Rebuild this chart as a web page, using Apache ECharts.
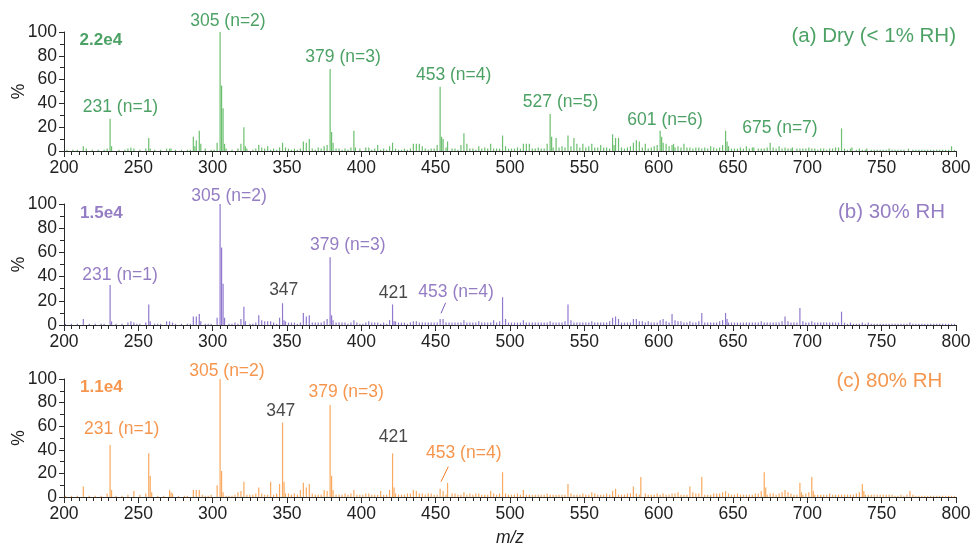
<!DOCTYPE html>
<html><head><meta charset="utf-8">
<script src="https://cdn.jsdelivr.net/npm/echarts@6/dist/echarts.min.js"></script>
<style>html,body{margin:0;padding:0;background:#fff}#c{width:973px;height:546px}</style>
</head><body><div id="c"></div>
<script>
// ---- data (m/z, relative intensity %) ----
const xTicks = [200, 800, 50];
const yTicks = [0, 100, 20];

const peaksDryMajor = [[231,27],[257,11],[287,12],[289,9],[291,17],[303,7],[305,100],[306,55],[307,36],[321,20],[347,7],[361,8],[363,7],[365,10],[379,69],[380,16],[381,7],[395,17],[453,54],[454,12],[455,10],[458,8],[469,15],[495,13],[527,31],[528,12],[531,11],[539,13],[543,11],[569,14],[571,11],[573,11],[601,17],[602,12],[645,17],[646,8],[675,7],[723,19]];
const peaksDryMinor = [[202,1],[206,1],[209,1],[213,4],[215,2],[219,1],[223,1],[227,1],[229,2],[232,4],[237,1],[241,1],[243,2],[245,3],[247,2],[251,1],[255,2],[258,2],[261,1],[265,1],[269,2],[271,2],[272,2],[275,1],[279,1],[283,1],[285,1],[288,4],[292,6],[295,2],[299,1],[301,1],[308,6],[309,2],[313,1],[317,2],[319,6],[322,4],[323,2],[327,1],[329,2],[331,5],[333,3],[335,2],[337,4],[339,1],[341,2],[343,1],[345,3],[349,3],[351,2],[353,1],[355,2],[357,1],[359,2],[367,2],[369,1],[371,3],[373,2],[375,4],[377,5],[383,2],[385,2],[387,1],[389,2],[391,1],[393,3],[396,3],[399,2],[403,3],[405,3],[407,1],[409,2],[411,5],[413,1],[415,2],[417,1],[419,4],[421,7],[423,2],[425,1],[427,1],[429,2],[431,1],[433,2],[435,6],[437,6],[439,6],[441,4],[443,2],[445,1],[447,2],[449,2],[451,5],[457,3],[461,2],[463,2],[465,1],[467,5],[471,6],[473,2],[475,2],[477,1],[479,4],[481,2],[483,3],[485,2],[487,6],[489,2],[491,2],[493,2],[497,4],[499,2],[501,2],[503,2],[505,3],[507,2],[509,6],[511,6],[513,6],[515,2],[517,2],[519,3],[521,2],[523,2],[525,6],[529,3],[533,3],[535,4],[537,3],[541,4],[545,6],[547,3],[549,6],[551,3],[553,4],[555,6],[557,3],[559,3],[561,5],[563,3],[565,3],[567,2],[570,5],[575,3],[577,2],[579,3],[581,4],[583,7],[585,9],[587,8],[589,3],[591,6],[593,2],[595,3],[597,4],[599,5],[603,7],[605,6],[607,4],[609,5],[610,6],[611,3],[613,4],[615,3],[617,6],[619,3],[621,3],[623,2],[625,3],[627,3],[629,2],[631,3],[633,2],[635,4],[637,3],[639,2],[641,3],[643,5],[647,4],[649,2],[651,2],[653,2],[655,3],[657,2],[659,4],[661,2],[663,3],[664,3],[667,2],[669,2],[671,2],[673,3],[677,3],[679,2],[681,4],[683,2],[685,3],[687,2],[689,2],[690,3],[693,2],[695,2],[697,2],[699,2],[701,3],[703,2],[705,2],[707,1],[709,2],[711,2],[713,1],[715,2],[717,2],[719,3],[721,3],[725,2],[727,1],[729,2],[730,3],[733,1],[735,2],[737,1],[739,1],[740,2],[743,1],[745,1],[747,1],[749,1],[751,1],[753,1],[755,2],[757,1],[759,1],[761,1],[763,1],[765,1],[768,2],[771,1],[773,1],[775,1],[777,1],[779,1],[781,1],[783,1],[785,1],[787,1],[789,1],[791,1],[793,1],[795,1],[797,4],[799,1]];

const peaks30Major = [[213,5],[231,33],[257,17],[287,7],[289,7],[291,9],[303,6],[305,100],[306,64],[307,34],[321,15],[331,8],[347,18],[361,10],[363,7],[365,8],[379,56],[380,8],[421,17],[495,23],[539,17],[569,6],[571,7],[609,9],[629,10],[645,10],[685,7],[695,14],[723,11]];
const peaks30Minor = [[201,1],[205,1],[209,1],[217,1],[221,1],[225,1],[227,1],[232,3],[235,1],[239,1],[243,2],[245,3],[247,2],[249,1],[251,1],[255,2],[258,3],[261,1],[263,1],[265,1],[269,3],[271,3],[273,2],[275,1],[279,1],[283,1],[285,1],[292,3],[295,1],[297,1],[299,1],[308,6],[311,1],[313,1],[315,2],[317,1],[319,5],[322,3],[325,1],[327,1],[329,2],[333,4],[335,3],[337,3],[339,3],[341,2],[343,1],[345,6],[348,4],[349,3],[351,2],[353,2],[355,2],[357,1],[359,2],[367,2],[369,2],[371,2],[373,2],[375,3],[377,5],[381,4],[383,2],[385,2],[387,2],[389,2],[391,1],[393,2],[395,4],[397,2],[399,1],[401,1],[403,2],[405,3],[407,2],[409,2],[411,2],[413,1],[415,2],[417,1],[419,4],[422,3],[423,3],[425,2],[427,2],[429,2],[431,1],[433,2],[435,3],[437,3],[439,2],[441,2],[443,2],[445,2],[447,2],[449,2],[451,2],[453,5],[455,5],[457,2],[459,2],[461,2],[463,2],[465,2],[467,2],[469,4],[471,2],[473,2],[475,2],[477,2],[479,3],[481,2],[483,2],[485,2],[487,2],[489,4],[491,2],[493,3],[497,5],[499,2],[501,2],[503,2],[505,2],[507,2],[509,4],[511,2],[513,2],[515,2],[517,2],[519,2],[521,2],[523,2],[525,2],[527,3],[529,2],[531,2],[533,2],[535,2],[537,3],[541,4],[543,2],[545,2],[547,2],[549,2],[551,2],[553,2],[555,3],[557,2],[559,2],[561,2],[563,2],[565,2],[567,3],[573,5],[575,2],[577,2],[579,2],[581,2],[583,5],[585,5],[587,3],[589,3],[591,2],[593,3],[595,2],[597,2],[599,2],[601,4],[603,5],[605,3],[607,2],[611,4],[613,3],[615,3],[617,2],[619,2],[621,3],[623,2],[625,2],[627,3],[631,2],[633,2],[635,2],[637,2],[639,2],[641,3],[643,4],[646,5],[647,2],[649,2],[651,2],[653,2],[655,2],[657,2],[659,2],[661,2],[663,2],[665,2],[667,2],[669,3],[671,2],[673,2],[675,2],[677,2],[679,2],[681,2],[683,3],[687,3],[689,2],[691,2],[693,2],[697,3],[699,2],[701,2],[703,3],[705,2],[707,2],[709,2],[711,2],[713,2],[715,2],[717,2],[719,2],[721,2],[725,2],[727,1],[729,2],[731,1],[733,1],[735,1],[737,2],[739,1],[741,2],[743,1],[745,1],[747,1],[749,1],[751,1],[753,1],[755,1],[757,1],[759,1],[761,1],[763,1],[765,1],[767,1],[769,2],[771,1],[773,1],[775,1],[777,1],[779,1],[781,1],[783,1],[785,1],[787,1],[789,1],[791,1],[793,1],[795,1],[797,1],[799,1]];

const peaks80Major = [[213,9],[231,44],[257,37],[258,18],[303,10],[305,100],[306,22],[321,13],[331,8],[339,13],[345,11],[347,63],[348,13],[361,12],[363,8],[365,11],[379,78],[380,18],[421,37],[422,8],[458,12],[495,21],[539,11],[583,9],[588,17],[621,9],[629,17],[671,21],[672,8],[695,12],[703,17],[737,11]];
const peaks80Minor = [[201,1],[205,1],[209,1],[217,1],[221,1],[225,1],[229,3],[232,6],[235,1],[239,1],[243,2],[247,5],[251,2],[255,3],[259,4],[263,1],[267,1],[271,6],[272,4],[273,3],[277,1],[281,1],[283,1],[287,6],[289,6],[291,6],[293,2],[295,1],[297,1],[299,2],[307,4],[309,1],[311,1],[313,1],[315,2],[317,4],[319,5],[323,2],[325,2],[327,2],[329,3],[333,3],[335,2],[337,2],[341,2],[343,3],[349,3],[351,3],[353,2],[355,3],[357,2],[359,6],[367,3],[369,2],[371,2],[373,2],[375,6],[377,5],[381,6],[383,2],[385,2],[387,2],[389,3],[391,2],[393,3],[395,6],[397,2],[399,2],[401,2],[403,3],[405,3],[407,2],[409,2],[411,2],[413,5],[415,2],[417,2],[419,6],[423,3],[425,2],[427,2],[429,2],[431,3],[433,3],[435,6],[437,5],[439,3],[441,3],[443,2],[445,3],[447,3],[449,2],[451,2],[453,7],[455,5],[457,2],[461,3],[463,3],[465,2],[467,2],[469,4],[471,2],[473,3],[475,2],[477,3],[479,3],[481,2],[483,2],[485,2],[487,5],[489,3],[491,2],[493,3],[497,3],[499,2],[501,2],[503,2],[505,3],[507,2],[509,6],[511,2],[513,2],[515,2],[517,2],[519,2],[521,2],[523,2],[525,3],[527,2],[529,2],[531,2],[533,2],[535,2],[537,2],[541,3],[543,2],[545,2],[547,2],[549,3],[551,2],[553,2],[555,4],[557,3],[559,2],[561,2],[563,2],[565,3],[567,2],[569,5],[571,7],[573,2],[575,2],[577,2],[579,3],[581,3],[585,3],[587,2],[591,3],[593,2],[595,2],[597,2],[599,3],[601,2],[603,3],[605,2],[607,2],[609,3],[611,3],[613,4],[615,2],[617,2],[619,2],[623,4],[625,3],[627,3],[631,2],[633,2],[635,2],[637,3],[639,3],[641,3],[643,4],[645,5],[647,3],[649,2],[651,2],[653,3],[655,2],[657,2],[659,2],[661,2],[663,2],[665,3],[667,3],[669,5],[673,2],[675,3],[677,3],[679,2],[681,3],[683,4],[685,6],[687,4],[689,3],[691,2],[693,2],[696,4],[697,2],[699,3],[701,4],[704,5],[705,2],[707,2],[709,2],[711,2],[713,2],[715,3],[717,2],[719,2],[721,2],[723,2],[725,2],[727,2],[729,2],[731,2],[733,3],[735,4],[738,5],[739,2],[741,2],[743,2],[745,2],[747,2],[749,2],[751,2],[753,2],[755,2],[757,2],[759,1],[761,1],[763,2],[765,1],[767,2],[769,5],[771,2],[773,1],[775,1],[777,1],[779,1],[781,1],[783,1],[785,1],[787,1],[789,1],[791,1],[793,1],[795,1],[797,1],[799,1]];

// annotation texts placed in data coordinates [m/z, %, text]
const labelsDry = [[238,37,'231 (n=1)'],[310.3,109,'305 (n=2)'],[387.7,78.7,'379 (n=3)'],[462.1,63.9,'453 (n=4)'],[534,41.4,'527 (n=5)'],[604.3,26,'601 (n=6)'],[681.6,19.3,'675 (n=7)']];
const labels30 = [[237.7,41.3,'231 (n=1)'],[311,106.6,'305 (n=2)'],[390.9,66.1,'379 (n=3)'],[463.7,27.5,'453 (n=4)']];
const labels30Black = [[347.8,28.9,'347'],[421.5,26.4,'421']];
const labels80 = [[238.8,57.6,'231 (n=1)'],[309.6,106.8,'305 (n=2)'],[389.8,89.2,'379 (n=3)'],[468.9,37.5,'453 (n=4)']];
const labels80Black = [[345.8,72.9,'347'],[421.6,50.3,'421']];
const scaleLabels = [[210.5,92.6,'2.2e4'],[210.8,92.6,'1.5e4'],[210.8,92.6,'1.1e4']];
const titles = [[800,96,'(a) Dry (< 1% RH)'],[792.6,92.8,'(b) 30% RH'],[790.8,97.7,'(c) 80% RH']];
const leader30 = [[456.7,18.4],[453.6,9.7]];
const leader80 = [[458.5,25.7],[453.6,13]];

// ---- style ----
const FONT = '"Liberation Sans", Arial, sans-serif';
const colText = ['#1f8a3e', '#7a5db5', '#f47c22'];
const colBar = ['#6cbf6e', '#9179cf', '#f9aa60'];
const grids = [{top:32,height:119},{top:204,height:121},{top:379,height:118}];

const chart = echarts.init(document.getElementById('c'), null, {renderer:'canvas'});

const xAxes = grids.map((g,i)=>({
  type:'value', gridIndex:i, min:xTicks[0], max:xTicks[1], interval:xTicks[2],
  axisLine:{onZero:false, lineStyle:{color:'#2a2a2a', width:1}},
  axisTick:{show:true, length:6, lineStyle:{color:'#2a2a2a'}},
  minorTick:{show:true, splitNumber:10, length:4, lineStyle:{color:'#2a2a2a'}},
  splitLine:{show:false},
  axisLabel:{color:'#222', fontSize:17.5, fontFamily:FONT, margin:8},
  name: i===2 ? 'm/z' : '', nameLocation:'middle', nameGap:32, nameMoveOverlap:false,
  nameTextStyle:{color:'#222', fontSize:17.5, fontStyle:'italic', fontFamily:FONT}
}));
const yAxes = grids.map((g,i)=>({
  type:'value', gridIndex:i, min:yTicks[0], max:yTicks[1], interval:yTicks[2],
  axisLine:{show:true, lineStyle:{color:'#2a2a2a', width:1}},
  axisTick:{show:true, length:5, lineStyle:{color:'#2a2a2a'}},
  minorTick:{show:true, splitNumber:2, length:4, lineStyle:{color:'#2a2a2a'}},
  splitLine:{show:false},
  axisLabel:{color:'#222', fontSize:17.5, fontFamily:FONT, margin:7},
  name:'%', nameLocation:'middle', nameGap:36, nameRotate:90, nameMoveOverlap:false,
  nameTextStyle:{color:'#222', fontSize:17.5, fontFamily:FONT}
}));

const peakSets = [peaksDryMajor.concat(peaksDryMinor), peaks30Major.concat(peaks30Minor), peaks80Major.concat(peaks80Minor)];
const series = [];
peakSets.forEach((d,i)=>{
  series.push({type:'bar', xAxisIndex:i, yAxisIndex:i, data:d, barWidth:1.2, silent:true,
    itemStyle:{color:colBar[i]}, animation:false});
});
function textSeries(i, arr, color, opts){
  return {type:'scatter', xAxisIndex:i, yAxisIndex:i, symbolSize:0, clip:false, silent:true, animation:false,
    data:arr.map(a=>({value:[a[0],a[1]], name:a[2]})),
    label:Object.assign({show:true, position:'inside', formatter:p=>p.name, color:color,
      fontSize:17.5, fontFamily:FONT}, opts||{})};
}
const colored = [labelsDry, labels30, labels80];
colored.forEach((arr,i)=>series.push(textSeries(i, arr, colText[i])));
series.push(textSeries(1, labels30Black, '#1a1a1a'));
series.push(textSeries(2, labels80Black, '#1a1a1a'));
scaleLabels.forEach((a,i)=>series.push(textSeries(i,[a], colText[i], {fontWeight:'bold', fontSize:17, align:'left'})));
titles.forEach((a,i)=>series.push(textSeries(i,[a], colText[i], {fontSize:20.5, align:'right'})));
[[1,leader30],[2,leader80]].forEach(([i,d])=>series.push({type:'line', xAxisIndex:i, yAxisIndex:i, data:d,
  symbol:'none', clip:false, silent:true, animation:false, lineStyle:{color:colText[i], width:1}}));

chart.setOption({
  animation:false,
  grid: grids.map(g=>({left:64, right:17, top:g.top, height:g.height, containLabel:false, outerBoundsMode:'none'})),
  xAxis:xAxes, yAxis:yAxes, series
});
</script></body></html>
